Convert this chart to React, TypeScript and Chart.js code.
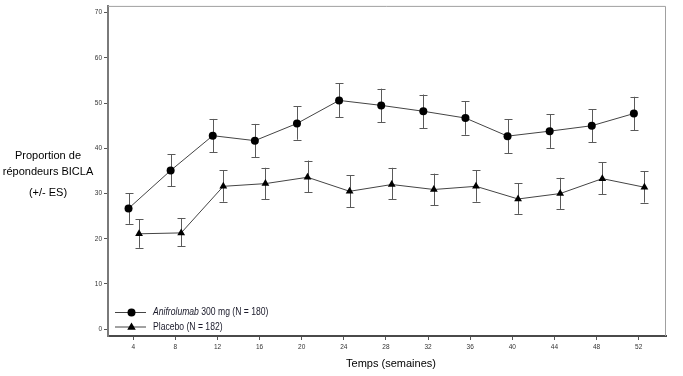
import React, { useEffect, useRef } from 'react';
import { Chart, registerables } from 'chart.js';
Chart.register(...registerables);

const weeks = [4, 8, 12, 16, 20, 24, 28, 32, 36, 40, 44, 48, 52];
const aniMean = [26.7, 35.1, 42.8, 41.7, 45.5, 50.6, 49.5, 48.2, 46.7, 42.7, 43.8, 45.0, 47.7];
const aniLow = [23.3, 31.6, 39.1, 38.0, 41.9, 46.9, 45.8, 44.5, 43.0, 38.9, 40.1, 41.3, 44.0];
const aniHigh = [30.1, 38.7, 46.5, 45.4, 49.3, 54.4, 53.2, 51.9, 50.4, 46.4, 47.5, 48.6, 51.4];
const pboMean = [21.1, 21.3, 31.6, 32.2, 33.6, 30.5, 32.0, 30.9, 31.6, 28.8, 30.0, 33.3, 31.4];
const pboLow = [18.0, 18.4, 28.2, 28.7, 30.3, 27.0, 28.7, 27.4, 28.2, 25.5, 26.6, 29.9, 28.0];
const pboHigh = [24.3, 24.6, 35.2, 35.7, 37.3, 34.0, 35.7, 34.4, 35.1, 32.3, 33.5, 36.9, 34.9];
const yTicks = [0, 10, 20, 30, 40, 50, 60, 70];
const aniLabelItalic = 'Anifrolumab';
const aniLabelRest = ' 300 mg (N = 180)';
const pboLabel = 'Placebo (N = 182)';
const yTitleLines = ['Proportion de', 'répondeurs BICLA', '(+/- ES)'];
const xTitle = 'Temps (semaines)';

const FONT = '"Liberation Sans", Arial, sans-serif';

const errorBarPlugin = {
  id: 'errorBars',
  beforeDatasetsDraw(chart: any) {
    const ctx = chart.ctx;
    const yScale = chart.scales.y;
    ctx.save();
    ctx.strokeStyle = '#5a5a5a';
    ctx.lineWidth = 1;
    chart.data.datasets.forEach((ds: any, di: number) => {
      const meta = chart.getDatasetMeta(di);
      meta.data.forEach((pt: any, i: number) => {
        const x = Math.round(pt.x) + 0.5;
        const yl = yScale.getPixelForValue(ds.errLow[i]);
        const yh = yScale.getPixelForValue(ds.errHigh[i]);
        ctx.beginPath();
        ctx.moveTo(x, yl);
        ctx.lineTo(x, yh);
        ctx.moveTo(x - 4, Math.round(yl) + 0.5);
        ctx.lineTo(x + 4, Math.round(yl) + 0.5);
        ctx.moveTo(x - 4, Math.round(yh) + 0.5);
        ctx.lineTo(x + 4, Math.round(yh) + 0.5);
        ctx.stroke();
      });
    });
    ctx.restore();
  },
};

const framePlugin = {
  id: 'frame',
  afterDraw(chart: any) {
    const { ctx, chartArea: a } = chart;
    ctx.save();
    ctx.strokeStyle = '#a0a0a0';
    ctx.lineWidth = 1;
    ctx.beginPath();
    ctx.moveTo(a.left, a.top + 0.5);
    ctx.lineTo(a.right - 0.5, a.top + 0.5);
    ctx.lineTo(a.right - 0.5, a.bottom);
    ctx.stroke();

    // legend
    const lx0 = 115, lx1 = 146, mx = 131.5, tx = 153;
    const rows = [312.5, 327];
    ctx.strokeStyle = '#444';
    ctx.fillStyle = '#000';
    rows.forEach((ry, k) => {
      ctx.beginPath();
      ctx.moveTo(lx0, ry);
      ctx.lineTo(lx1, ry);
      ctx.stroke();
      ctx.beginPath();
      if (k === 0) {
        ctx.arc(mx, ry, 4, 0, Math.PI * 2);
      } else {
        const r = 4.5;
        ctx.moveTo(mx, ry - r);
        ctx.lineTo(mx + r * 0.95, ry + r * 0.6);
        ctx.lineTo(mx - r * 0.95, ry + r * 0.6);
        ctx.closePath();
      }
      ctx.fill();
    });
    ctx.fillStyle = '#1a1a2a';
    ctx.textBaseline = 'middle';
    ctx.textAlign = 'left';
    const sx = 0.86;
    ctx.save();
    ctx.translate(tx, 0);
    ctx.scale(sx, 1);
    ctx.font = 'italic 10px ' + FONT;
    ctx.fillText(aniLabelItalic, 0, rows[0]);
    const w = ctx.measureText(aniLabelItalic).width;
    ctx.font = '10px ' + FONT;
    ctx.fillText(aniLabelRest, w, rows[0]);
    ctx.fillText(pboLabel, 0, rows[1]);
    ctx.restore();

    // x title
    ctx.fillStyle = '#000';
    ctx.font = '11px ' + FONT;
    ctx.textAlign = 'center';
    ctx.fillText(xTitle, 391, 364);

    // y title
    const ys = [156, 171.5, 193];
    yTitleLines.forEach((t, i) => ctx.fillText(t, 48, ys[i]));
    ctx.restore();
  },
};

export default function App() {
  const ref = useRef<HTMLCanvasElement>(null);
  useEffect(() => {
    if (!ref.current) return;
    const chart = new Chart(ref.current, {
      type: 'line',
      data: {
        datasets: [
          {
            label: 'Anifrolumab 300 mg (N = 180)',
            data: weeks.map((w, i) => ({ x: w - 0.45, y: aniMean[i] })),
            errLow: aniLow,
            errHigh: aniHigh,
            borderColor: '#444',
            borderWidth: 1,
            pointStyle: 'circle',
            pointRadius: 4,
            pointBackgroundColor: '#000',
            pointBorderColor: '#000',
            pointBorderWidth: 0,
            tension: 0,
          } as any,
          {
            label: 'Placebo (N = 182)',
            data: weeks.map((w, i) => ({ x: w + 0.55, y: pboMean[i] })),
            errLow: pboLow,
            errHigh: pboHigh,
            borderColor: '#444',
            borderWidth: 1,
            pointStyle: 'triangle',
            pointRadius: 4.5,
            pointBackgroundColor: '#000',
            pointBorderColor: '#000',
            pointBorderWidth: 0,
            tension: 0,
          } as any,
        ],
      },
      options: {
        responsive: false,
        animation: false,
        layout: { padding: { left: 0, right: 17, top: 5, bottom: 0 } },
        plugins: { legend: { display: false }, tooltip: { enabled: false } },
        scales: {
          x: {
            type: 'linear',
            min: 1.6,
            max: 54.6,
            afterBuildTicks: (s: any) => {
              s.ticks = weeks.map((v) => ({ value: v }));
            },
            afterFit: (s: any) => {
              s.height = 40;
            },
            ticks: {
              font: { size: 6.5, family: FONT },
              color: '#333',
              padding: 3,
              maxRotation: 0,
              autoSkip: false,
            },
            grid: { drawOnChartArea: false, drawTicks: true, tickLength: 4, tickColor: '#555' },
            border: { display: true, color: '#4a4a4a', width: 2 },
          },
          y: {
            type: 'linear',
            min: -1.5,
            max: 71.5,
            afterBuildTicks: (s: any) => {
              s.ticks = yTicks.map((v) => ({ value: v }));
            },
            afterFit: (s: any) => {
              s.width = 108;
            },
            ticks: {
              font: { size: 6.5, family: FONT },
              color: '#333',
              padding: 2,
            },
            grid: { drawOnChartArea: false, drawTicks: true, tickLength: 4, tickColor: '#555' },
            border: { display: true, color: '#7a7a7a', width: 2 },
          },
        },
      },
      plugins: [errorBarPlugin, framePlugin],
    } as any);
    return () => chart.destroy();
  }, []);
  return (
    <div style={{ position: 'absolute', left: 0, top: 0, width: 683, height: 376, background: '#fff' }}>
      <canvas ref={ref} width={683} height={376} />
    </div>
  );
}
